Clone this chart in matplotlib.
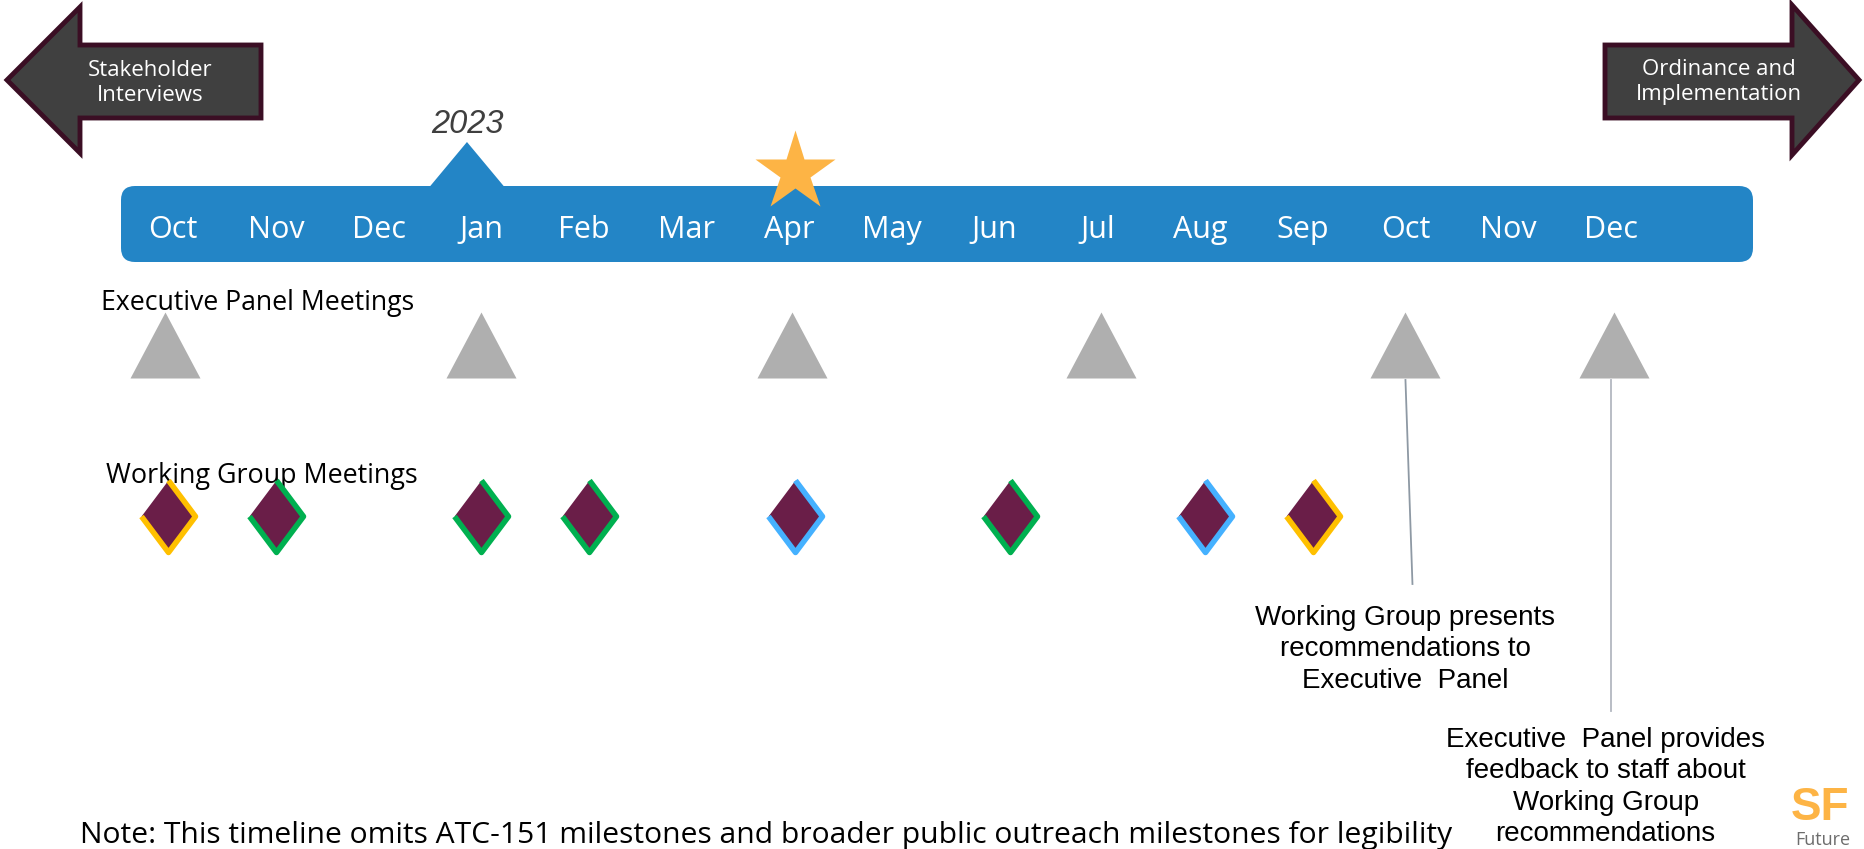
import matplotlib.pyplot as plt
from matplotlib.patches import Polygon, FancyBboxPatch

plt.rcParams['font.family'] = ['Open Sans', 'DejaVu Sans']

# timeline data
months = ['Oct', 'Nov', 'Dec', 'Jan', 'Feb', 'Mar', 'Apr', 'May',
          'Jun', 'Jul', 'Aug', 'Sep', 'Oct', 'Nov', 'Dec']
year_label = '2023'
year_pos = 2.86          # month index where the year pointer sits
milestone_pos = 6.05     # star (Apr)

exec_label = 'Executive Panel Meetings'
exec_meetings = [-0.08, 3.0, 6.03, 9.03, 12.0, 14.03]

wg_label = 'Working Group Meetings'
wg_meetings = [-0.05, 1.0, 3.0, 4.05, 6.05, 8.15, 10.05, 11.1]
wg_colors = ['#FFC000', '#00B050', '#00B050', '#00B050',
             '#45B1FF', '#00B050', '#45B1FF', '#FFC000']

callout_pos = [12, 14]
callout_text = ['Working Group presents\nrecommendations to\nExecutive  Panel',
                'Executive  Panel provides\nfeedback to staff about\nWorking Group\nrecommendations']

note = 'Note: This timeline omits ATC-151 milestones and broader public outreach milestones for legibility'

W, H = 1865, 849
X0, DX = 173.3, 102.68   # pixel position of first month and month spacing

BAR = '#2385C6'
GREY = '#AFAFAF'
PLUM = '#6A1E48'

fig = plt.figure(figsize=(W / 100, H / 100), dpi=100)

# background layer in pixel units for the decorations
bg = fig.add_axes([0, 0, 1, 1])
bg.set_xlim(0, W)
bg.set_ylim(H, 0)
bg.axis('off')

# data layer: x in month index
ax = fig.add_axes([0, 0, 1, 1])
ax.set_xlim(-X0 / DX, (W - X0) / DX)
ax.set_ylim(H, 0)
ax.axis('off')
ax.patch.set_alpha(0)

# the blue month bar
bg.add_patch(FancyBboxPatch((121, 186), 1753 - 121, 262 - 186,
                            boxstyle='round,pad=0,rounding_size=14',
                            fc=BAR, ec='none'))
hw = 37.5 / DX
ax.fill([year_pos - hw, year_pos, year_pos + hw], [187, 142, 187], color=BAR, lw=0)
ax.text(year_pos, 133, year_label, ha='center', va='baseline', fontsize=23.5,
        style='italic', family='Liberation Sans', color='#3F3F3F')

for i, m in enumerate(months):
    ax.text(i, 238, m, ha='center', va='baseline', fontsize=22, color='white')

ax.plot(milestone_pos, 172, marker='*', ms=60.5, color='#FDB445', mec='none')

# side arrows
left = [(7, 80), (80, 7), (80, 45), (261, 45), (261, 118), (80, 118), (80, 153)]
right = [(1605, 45), (1792, 45), (1792, 5), (1859, 80), (1792, 155), (1792, 118), (1605, 118)]
for pts in (left, right):
    bg.add_patch(Polygon(pts, closed=True, fc='#404040', ec='#3B0E24',
                         lw=3.5, joinstyle='miter'))
bg.text(150, 83, 'Stakeholder\nInterviews', ha='center', va='center',
        fontsize=16, color='white', linespacing=1.2)
bg.text(1719, 82, 'Ordinance and\nImplementation', ha='center', va='center',
        fontsize=16, color='white', linespacing=1.2)

# executive panel meetings
bg.text(101, 289, exec_label, ha='left', va='top', fontsize=19.2, color='black')
tri = [(-35, -33), (35, -33), (0, 33)]
ax.plot(exec_meetings, [345] * len(exec_meetings), ls='none', marker=tri,
        ms=50.4, color=GREY, mec='none')

# working group meetings
bg.text(106, 462, wg_label, ha='left', va='top', fontsize=19.4, color='black')
dia = [(0, 36), (27, 0), (0, -36), (-27, 0)]
for x, c in zip(wg_meetings, wg_colors):
    ax.plot(x, 516, marker=dia, ms=51.8, color=PLUM, mec=c, mew=4)

# callouts
ax.plot([callout_pos[0], callout_pos[0] + 7 / DX], [380, 584], color='#8E99A4', lw=1.3)
ax.plot([callout_pos[1], callout_pos[1]], [380, 711], color='#B3B8C0', lw=1.3)
ax.text(callout_pos[0], 605, callout_text[0], ha='center', va='top', fontsize=20,
        family='Liberation Sans', linespacing=1.27)
ax.text(callout_pos[1] - 0.05, 727, callout_text[1], ha='center', va='top', fontsize=20,
        family='Liberation Sans', linespacing=1.27)

bg.text(80, 843, note, ha='left', va='baseline', fontsize=21.6, color='black')

# logo corner
bg.text(1791, 820, 'SF', ha='left', va='baseline', fontsize=33, fontweight='bold',
        family='Liberation Sans', color='#FDB445')
bg.text(1795, 845, 'Future', ha='left', va='baseline', fontsize=13, color='#6D6D6D')

fig.savefig('out.png', dpi=100)
